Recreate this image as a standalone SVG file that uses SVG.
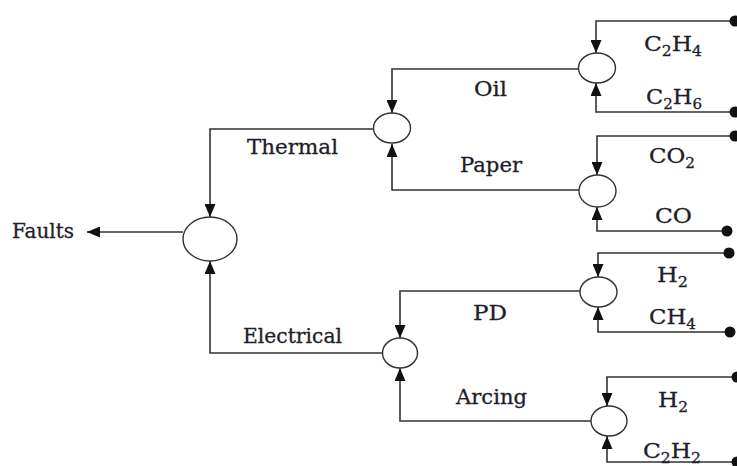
<svg xmlns="http://www.w3.org/2000/svg" width="737" height="466" viewBox="0 0 737 466">
<defs>
<style>
.ln{fill:none;stroke:#333;stroke-width:1.6}
.nd{fill:#fff;stroke:#333;stroke-width:1.4}
.dot{fill:#111}
.lb{font-family:"DejaVu Serif","Liberation Serif",serif;font-size:20px;fill:#1e1e2a;stroke:#1e1e2a;stroke-width:0.3}
.fm{font-size:21px}
.sb{font-size:14px}
</style>
<marker id="ah" markerUnits="userSpaceOnUse" markerWidth="13" markerHeight="11" refX="13" refY="5.5" orient="auto">
<path d="M0,0 L13,5.5 L0,11 z" fill="#111"/>
</marker>
</defs>
<rect width="737" height="466" fill="#fff"/>
<g id="connectors">
<path class="ln" d="M183,232 H87" marker-end="url(#ah)"/>
<path class="ln" d="M373,129 H210 V217" marker-end="url(#ah)"/>
<path class="ln" d="M383,353 H210 V261" marker-end="url(#ah)"/>
<path class="ln" d="M578,69 H392 V113" marker-end="url(#ah)"/>
<path class="ln" d="M579,190 H392 V144" marker-end="url(#ah)"/>
<path class="ln" d="M580,291 H400 V338" marker-end="url(#ah)"/>
<path class="ln" d="M591,421 H400 V368" marker-end="url(#ah)"/>
<path class="ln" d="M735,21 H596 V53" marker-end="url(#ah)"/>
<path class="ln" d="M735,112 H596 V83" marker-end="url(#ah)"/>
<path class="ln" d="M735,136 H597 V175" marker-end="url(#ah)"/>
<path class="ln" d="M727,231 H597 V207" marker-end="url(#ah)"/>
<path class="ln" d="M729,253 H598 V277" marker-end="url(#ah)"/>
<path class="ln" d="M730,332 H598 V307" marker-end="url(#ah)"/>
<path class="ln" d="M737,377 H607 V406" marker-end="url(#ah)"/>
<path class="ln" d="M737,462 H607 V436" marker-end="url(#ah)"/>
<circle class="dot" cx="735" cy="21" r="5.5"/>
<circle class="dot" cx="735" cy="112" r="5.5"/>
<circle class="dot" cx="735" cy="136" r="5.5"/>
<circle class="dot" cx="727" cy="231" r="5.5"/>
<circle class="dot" cx="729" cy="253" r="5.5"/>
<circle class="dot" cx="730" cy="332" r="5.5"/>
<circle class="dot" cx="737" cy="377" r="5.5"/>
<circle class="dot" cx="737" cy="462" r="5.5"/>
</g>
<g id="faults"><text class="lb" x="12" y="238" textLength="62" lengthAdjust="spacingAndGlyphs">Faults</text></g>
<g id="root"><ellipse class="nd" cx="210" cy="239" rx="27" ry="22"/></g>
<g id="thermal"><ellipse class="nd" cx="392" cy="128" rx="18.5" ry="15"/><text class="lb" x="247" y="154" textLength="91" lengthAdjust="spacingAndGlyphs">Thermal</text></g>
<g id="electrical"><ellipse class="nd" cx="400" cy="353" rx="17.5" ry="15"/><text class="lb" x="243" y="343" textLength="99" lengthAdjust="spacingAndGlyphs">Electrical</text></g>
<g id="oil"><ellipse class="nd" cx="597" cy="68" rx="18.5" ry="15"/><text class="lb" x="474" y="96" textLength="33" lengthAdjust="spacingAndGlyphs">Oil</text></g>
<g id="paper"><ellipse class="nd" cx="597.5" cy="191" rx="18.5" ry="16"/><text class="lb" x="460" y="172" textLength="62" lengthAdjust="spacingAndGlyphs">Paper</text></g>
<g id="pd"><ellipse class="nd" cx="598.5" cy="292" rx="18.5" ry="15"/><text class="lb" x="473" y="320" textLength="34" lengthAdjust="spacingAndGlyphs">PD</text></g>
<g id="arcing"><ellipse class="nd" cx="609" cy="421" rx="18" ry="15"/><text class="lb" x="456" y="404" textLength="71" lengthAdjust="spacingAndGlyphs">Arcing</text></g>
<g id="c2h4"><text class="lb fm" x="644" y="51" textLength="58" lengthAdjust="spacingAndGlyphs">C<tspan class="sb" dy="5">2</tspan><tspan dy="-5">H</tspan><tspan class="sb" dy="5">4</tspan></text></g>
<g id="c2h6"><text class="lb fm" x="646" y="104" textLength="56" lengthAdjust="spacingAndGlyphs">C<tspan class="sb" dy="5">2</tspan><tspan dy="-5">H</tspan><tspan class="sb" dy="5">6</tspan></text></g>
<g id="co2"><text class="lb fm" x="649" y="163" textLength="46" lengthAdjust="spacingAndGlyphs">CO<tspan class="sb" dy="5">2</tspan></text></g>
<g id="co"><text class="lb fm" x="655" y="223" textLength="37" lengthAdjust="spacingAndGlyphs">CO</text></g>
<g id="h2-pd"><text class="lb fm" x="657" y="282" textLength="31" lengthAdjust="spacingAndGlyphs">H<tspan class="sb" dy="5">2</tspan></text></g>
<g id="ch4"><text class="lb fm" x="649" y="324" textLength="47" lengthAdjust="spacingAndGlyphs">CH<tspan class="sb" dy="5">4</tspan></text></g>
<g id="h2-arc"><text class="lb fm" x="658" y="407" textLength="30" lengthAdjust="spacingAndGlyphs">H<tspan class="sb" dy="5">2</tspan></text></g>
<g id="c2h2"><text class="lb fm" x="643" y="458" textLength="58" lengthAdjust="spacingAndGlyphs">C<tspan class="sb" dy="5">2</tspan><tspan dy="-5">H</tspan><tspan class="sb" dy="5">2</tspan></text></g>
</svg>
